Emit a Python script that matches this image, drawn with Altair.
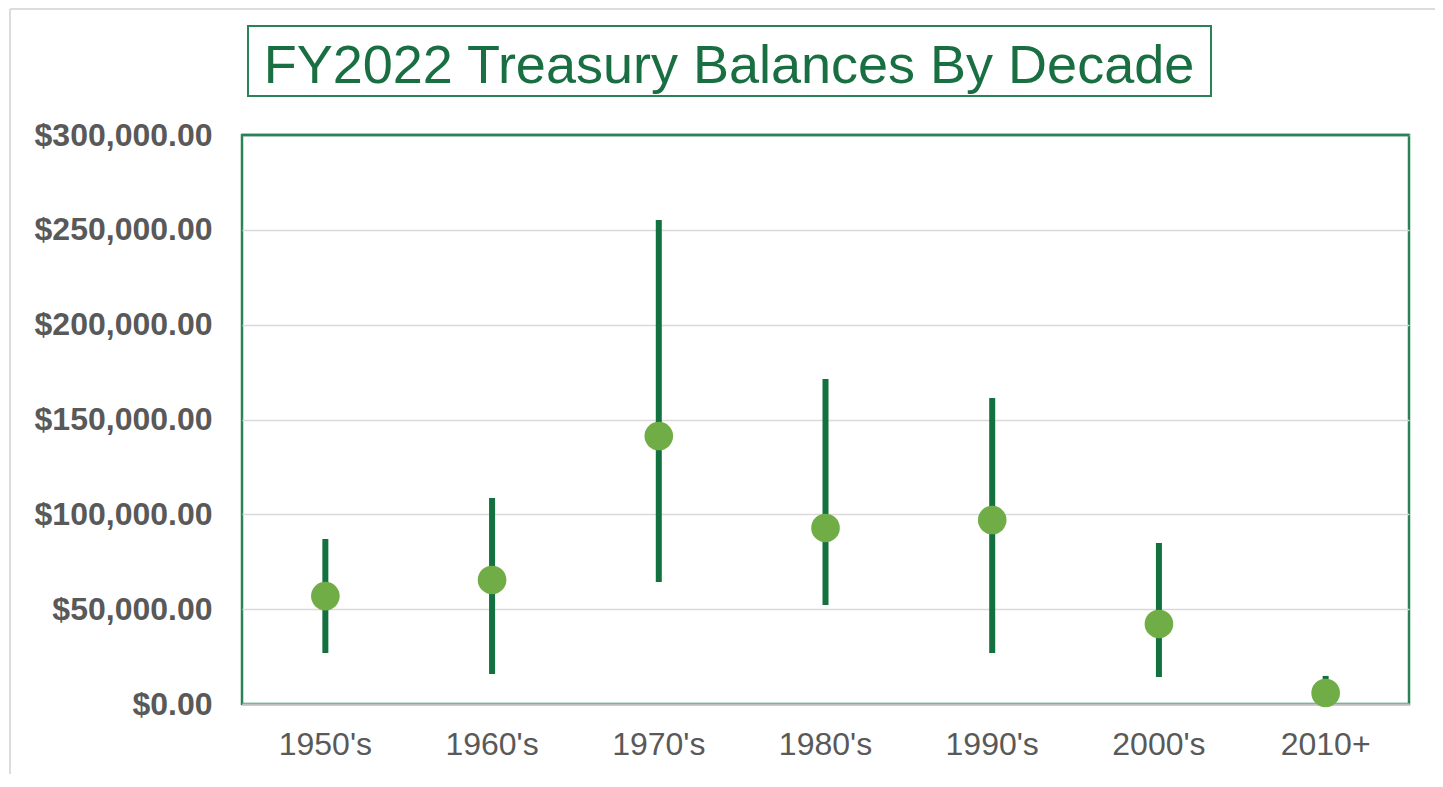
import altair as alt
import pandas as pd

decades = ["1950's", "1960's", "1970's", "1980's", "1990's", "2000's", "2010+"]
low_vals = [26900, 15800, 64300, 52200, 26900, 14200, 2000]
high_vals = [87000, 108600, 255200, 171300, 161300, 84900, 14800]
mid_vals = [56900, 65400, 141300, 92800, 97000, 42200, 5800]
title_text = "FY2022 Treasury Balances By Decade"

df = pd.DataFrame({"decade": decades, "low": low_vals, "high": high_vals, "mid": mid_vals})

W, H = 1167, 569
DARK = "#13703f"
LIGHT = "#70ad47"
FRAME = "#2a8256"

x_enc = alt.X("decade:N", sort=decades, title=None,
              scale=alt.Scale(paddingInner=0, paddingOuter=0),
              axis=alt.Axis(labelAngle=0, labelFont="Liberation Sans", labelFontSize=32,
                            labelColor="#595959", labelPadding=25, ticks=False,
                            domainColor="#bfbfbf", domainWidth=2, grid=False))
y_scale = alt.Scale(domain=[0, 300000], nice=False)

base = alt.Chart(df)

rules = base.mark_rule(color=DARK, strokeWidth=6).encode(
    x=x_enc,
    y=alt.Y("low:Q", scale=y_scale, title=None,
            axis=alt.Axis(values=[0, 50000, 100000, 150000, 200000, 250000, 300000],
                          format="$,.2f", labelFont="Liberation Sans", labelFontSize=32,
                          labelFontWeight="bold", labelColor="#595959", labelPadding=30,
                          ticks=False, domain=False, gridColor="#d9d9d9", gridWidth=1.5)),
    y2="high:Q",
)

points = base.mark_circle(color=LIGHT, opacity=1, size=820).encode(
    x=alt.X("decade:N", sort=decades),
    y=alt.Y("mid:Q", scale=y_scale),
)

tdf = pd.DataFrame({"t": [title_text]})
title_box = alt.Chart(tdf).mark_rect(fill="white", stroke=FRAME, strokeWidth=2).encode(
    x=alt.value(6), x2=alt.value(969), y=alt.value(-109), y2=alt.value(-39)
)
title_mark = alt.Chart(tdf).mark_text(
    font="Liberation Sans", fontSize=54, color="#1a6f42", align="center", baseline="alphabetic"
).encode(text="t:N", x=alt.value(487), y=alt.value(-52))

frame_top = alt.Chart(tdf).mark_rule(color="#dcdcdc", strokeWidth=2).encode(
    x=alt.value(-232), x2=alt.value(W + 30), y=alt.value(-126)
)
frame_left = alt.Chart(tdf).mark_rule(color="#dcdcdc", strokeWidth=2).encode(
    x=alt.value(-232), y=alt.value(-126), y2=alt.value(H + 100)
)
plot_top = alt.Chart(tdf).mark_rule(color=FRAME, strokeWidth=2.5).encode(
    x=alt.value(0), x2=alt.value(W), y=alt.value(0)
)

chart = alt.layer(frame_top, frame_left, title_box, title_mark, plot_top, rules, points).properties(
    width=W, height=H,
    autosize=alt.AutoSizeParams(type="none"),
    padding={"left": 234, "top": 127, "right": 26, "bottom": 70},
).configure(background="white").configure_view(stroke=FRAME, strokeWidth=2.5)

chart.save("out.html", embed_options={"renderer": "svg", "actions": False})
